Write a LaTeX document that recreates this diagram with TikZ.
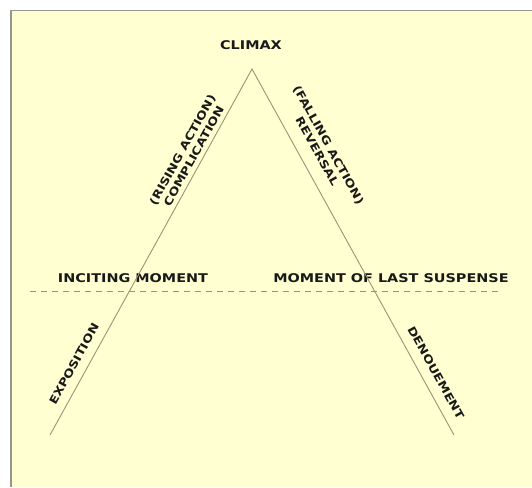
\documentclass[tikz,border=0pt]{standalone}
\usepackage{fontspec}
\usepackage{xcolor}
\usepackage{tikz}
\newfontfamily\plotfont[FakeStretch=1.2]{DejaVu Sans}
\definecolor{panelbg}{RGB}{255,255,210}
\definecolor{framegray}{RGB}{150,150,140}
\definecolor{linegray}{RGB}{150,150,118}
\definecolor{inkblack}{RGB}{25,25,25}
\tikzset{
  stage/.style={font=\plotfont\bfseries\fontsize{12}{14}\selectfont, text=inkblack,
    inner sep=1pt},
  side/.style={font=\plotfont\bfseries\fontsize{11}{13}\selectfont, text=inkblack,
    inner sep=1pt, align=center},
  arc/.style={draw=linegray, line width=0.9pt},
  turn/.style={draw=linegray, line width=0.8pt, dash pattern=on 6pt off 5pt},
}
\begin{document}
\begin{tikzpicture}[x=1pt, y=-1pt]

  \useasboundingbox (0,0) rectangle (532,487);
  \fill[white] (0,0) rectangle (532,487);
  \fill[panelbg] (11,10) rectangle (532,487);
  \draw[framegray, line width=0.8pt] (11,10) -- (532,10);
  \draw[framegray, line width=2pt] (11,10) -- (11,487);

  \coordinate (apex)   at (252,69);
  \coordinate (lbase)  at (50,435);
  \coordinate (rbase)  at (454,435);
  \coordinate (dleft)  at (30,291);
  \coordinate (dright) at (498,291);

  \node[stage] (climax)   at (251,45)  {CLIMAX};
  \node[stage] (inciting) at (133,278) {INCITING MOMENT};
  \node[stage] (suspense) at (391,278) {MOMENT OF LAST SUSPENSE};

  \node[side, rotate=61]  (rising)  at (188,153) {(RISING ACTION)\\COMPLICATION};
  \node[side, rotate=-61] (falling) at (323,148) {(FALLING ACTION)\\REVERSAL};
  \node[side, rotate=61]  (expo)    at (74,364)  {EXPOSITION};
  \node[side, rotate=-61] (denoue)  at (436,373) {DENOUEMENT};

  \draw[turn] (dleft) -- (dright);
  \draw[arc] (lbase) -- (apex) -- (rbase);

\end{tikzpicture}
\end{document}
